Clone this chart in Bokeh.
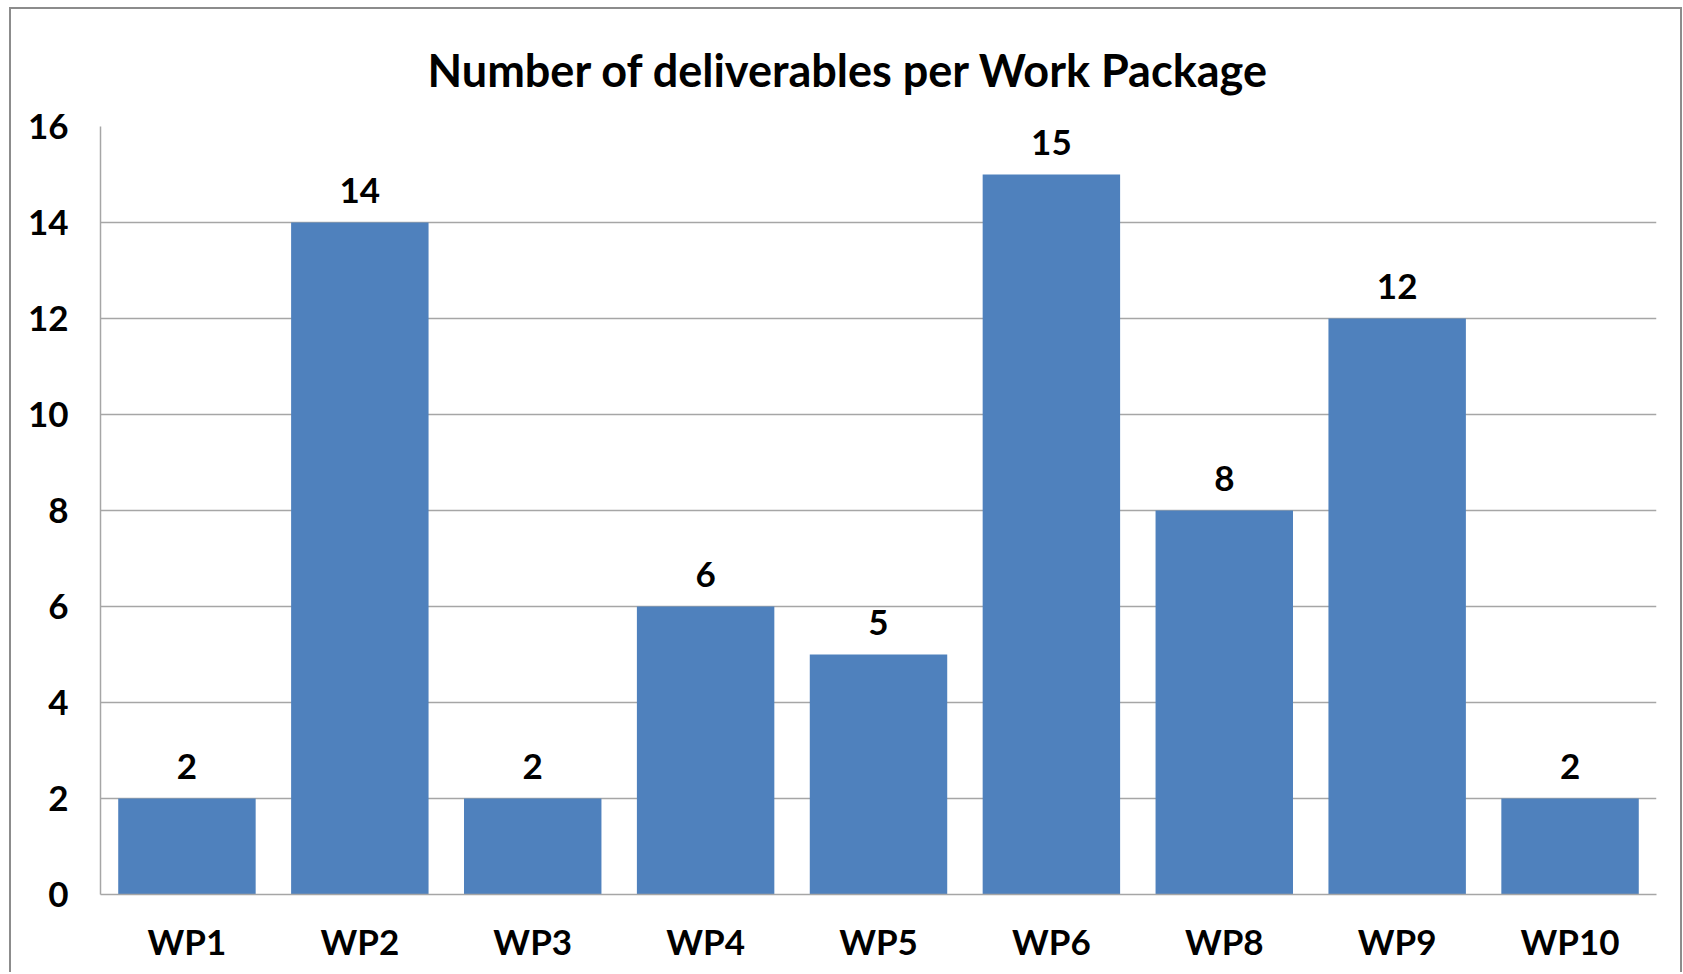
from bokeh.plotting import figure
from bokeh.models import ColumnDataSource, LabelSet, FixedTicker, Range1d
from bokeh.core.properties import value
from bokeh.embed import file_html
from bokeh.resources import INLINE

categories = ["WP1", "WP2", "WP3", "WP4", "WP5", "WP6", "WP8", "WP9", "WP10"]
deliverables = [2, 14, 2, 6, 5, 15, 8, 12, 2]
y_ticks = [0, 2, 4, 6, 8, 10, 12, 14, 16]
title_text = "Number of deliverables per Work Package"

FONT = "Lato"
BLUE = "#4F81BD"
GRID = "#a6a6a6"

W, H = 1669, 963
BL, BR, BT, BB = 89, 28, 117, 80

src = ColumnDataSource(dict(cat=categories, val=deliverables,
                            lab=[str(v) for v in deliverables]))

p = figure(x_range=categories, y_range=Range1d(0, 16), width=W, height=H,
           output_backend="svg", toolbar_location=None,
           min_border_left=BL, min_border_right=BR,
           min_border_top=BT, min_border_bottom=BB)
p.styles = {"margin-left": "9px", "margin-top": "7px",
            "border-left": "2px solid #8c8c8c", "border-top": "2px solid #8c8c8c",
            "border-right": "2px solid #8c8c8c", "box-sizing": "content-box"}

p.title.text = title_text
p.title.align = "left"
p.title.offset = 327
p.title.standoff = 60
p.title.text_line_height = 1.0
p.title.text_font = FONT
p.title.text_font_style = "bold"
p.title.text_font_size = "45px"
p.title.text_color = "black"

p.vbar(x="cat", top="val", width=0.795, bottom=0, source=src,
       fill_color=BLUE, line_color=None)

p.add_layout(LabelSet(x="cat", y="val", text="lab", source=src,
                      text_align="center", text_baseline="alphabetic",
                      y_offset=20, text_font=value(FONT),
                      text_font_style="bold", text_font_size="35px",
                      text_color="black"))

p.outline_line_color = None
p.background_fill_color = "white"
p.border_fill_color = "white"

p.yaxis.ticker = FixedTicker(ticks=y_ticks)
p.ygrid.ticker = FixedTicker(ticks=y_ticks)
p.xgrid.grid_line_color = None
p.ygrid.grid_line_color = GRID
p.ygrid.grid_line_width = 1.5

for ax in (p.xaxis, p.yaxis):
    ax.axis_line_color = GRID
    ax.axis_line_width = 1.5
    ax.major_tick_line_color = None
    ax.minor_tick_line_color = None
    ax.major_label_text_font = FONT
    ax.major_label_text_font_style = "bold"
    ax.major_label_text_font_size = "35px"
    ax.major_label_text_color = "black"

p.yaxis.major_label_standoff = 26
p.xaxis.major_label_standoff = 19
p.x_range.range_padding = 0

html = file_html(p, INLINE)
html = html.replace("<body>", '<body style="background:#f0f0f0">', 1)
open("out.html", "w").write(html)
